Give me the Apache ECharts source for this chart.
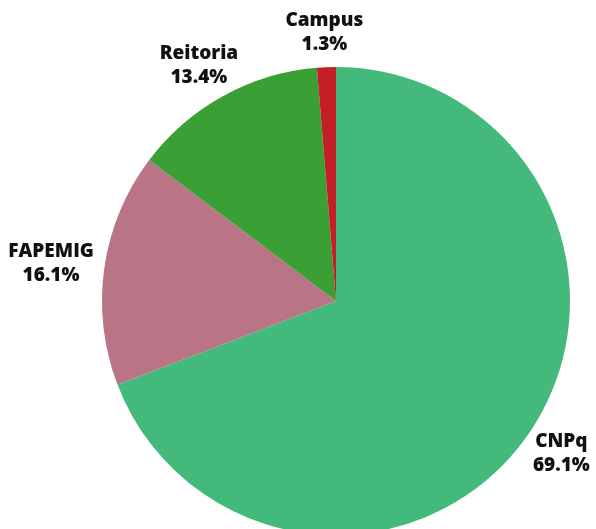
<!DOCTYPE html>
<html>
<head>
<meta charset="utf-8">
<script src="https://cdn.jsdelivr.net/npm/echarts@6/dist/echarts.min.js"></script>
<style>html,body{margin:0;padding:0;background:#fff;}#c{width:596px;height:529px;}</style>
</head>
<body>
<div id="c"></div>
<script>
const categories = ['CNPq', 'FAPEMIG', 'Reitoria', 'Campus'];
const values = [69.1, 16.1, 13.4, 1.3];
const colors = ['#44b97c', '#b97486', '#3a9f34', '#c41e26'];

const chart = echarts.init(document.getElementById('c'), null, {renderer: 'canvas'});
const GAP = 11;
chart.setOption({
  animation: false,
  backgroundColor: '#ffffff',
  series: [{
    type: 'pie',
    center: [336, 301],
    radius: 234,
    startAngle: 90,
    clockwise: true,
    avoidLabelOverlap: false,
    data: categories.map((c, i) => ({name: c, value: values[i], itemStyle: {color: colors[i]}})),
    label: {
      show: true,
      position: 'outside',
      formatter: p => p.name + '\n' + p.value.toFixed(1) + '%',
      fontFamily: 'Open Sans',
      fontWeight: 800,
      fontSize: 19,
      lineHeight: 24,
      color: '#111111'
    },
    labelLine: {show: true, length: 10, length2: 0, lineStyle: {opacity: 0, width: 0}},
    labelLayout: function (params) {
      const pts = params.labelLinePoints;
      const r = params.labelRect;
      if (!pts) return {};
      const p0 = pts[0], p1 = pts[1];
      let dx = p1[0] - p0[0], dy = p1[1] - p0[1];
      const len = Math.sqrt(dx * dx + dy * dy) || 1;
      dx /= len; dy /= len;
      const cx = p0[0] + dx * GAP + dx * r.width / 2;
      const cy = p0[1] + dy * GAP + dy * r.height / 2;
      return {x: cx, y: cy, align: 'center', verticalAlign: 'middle'};
    }
  }]
});
</script>
</body>
</html>
